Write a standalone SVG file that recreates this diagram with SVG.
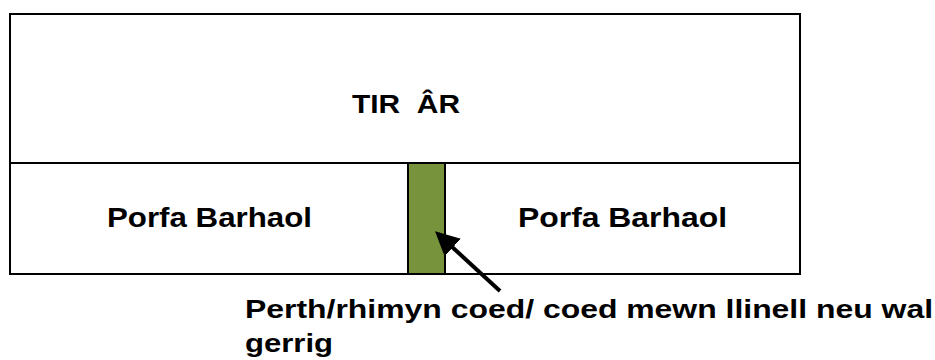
<svg xmlns="http://www.w3.org/2000/svg" width="935" height="360" viewBox="0 0 935 360">
<defs>
<style>
.box{fill:#ffffff;stroke:#000000;stroke-width:2}
.lbl{font-family:"Liberation Sans",Arial,sans-serif;font-weight:bold;fill:#000000}
</style>
<marker id="ah" markerWidth="6" markerHeight="6" refX="5" refY="3" orient="auto" markerUnits="strokeWidth">
<path d="M0,0 L6,3 L0,6 Z" fill="#000000"/>
</marker>
</defs>
<g id="tir-ar">
<rect class="box" x="10" y="14" width="790" height="149"/>
<text class="lbl" x="352" y="113" font-size="25" xml:space="preserve" textLength="108" lengthAdjust="spacingAndGlyphs">TIR  ÂR</text>
</g>
<g id="porfa-left">
<rect class="box" x="10" y="163" width="398" height="111"/>
<text class="lbl" x="107" y="227" font-size="28" textLength="205" lengthAdjust="spacingAndGlyphs">Porfa Barhaol</text>
</g>
<g id="porfa-right">
<rect class="box" x="445" y="163" width="355" height="111"/>
<text class="lbl" x="518" y="227" font-size="28" textLength="209" lengthAdjust="spacingAndGlyphs">Porfa Barhaol</text>
</g>
<g id="hedge">
<rect x="408" y="163" width="37" height="111" fill="#77933C" stroke="#000000" stroke-width="2"/>
</g>
<g id="connectors">
<line x1="500" y1="291" x2="438" y2="234" stroke="#000000" stroke-width="4" marker-end="url(#ah)"/>
</g>
<g id="caption">
<text class="lbl" x="245" y="318" font-size="26" textLength="688" lengthAdjust="spacingAndGlyphs">Perth/rhimyn coed/ coed mewn llinell neu wal</text>
<text class="lbl" x="245" y="352" font-size="26" textLength="88" lengthAdjust="spacingAndGlyphs">gerrig</text>
</g>
</svg>
